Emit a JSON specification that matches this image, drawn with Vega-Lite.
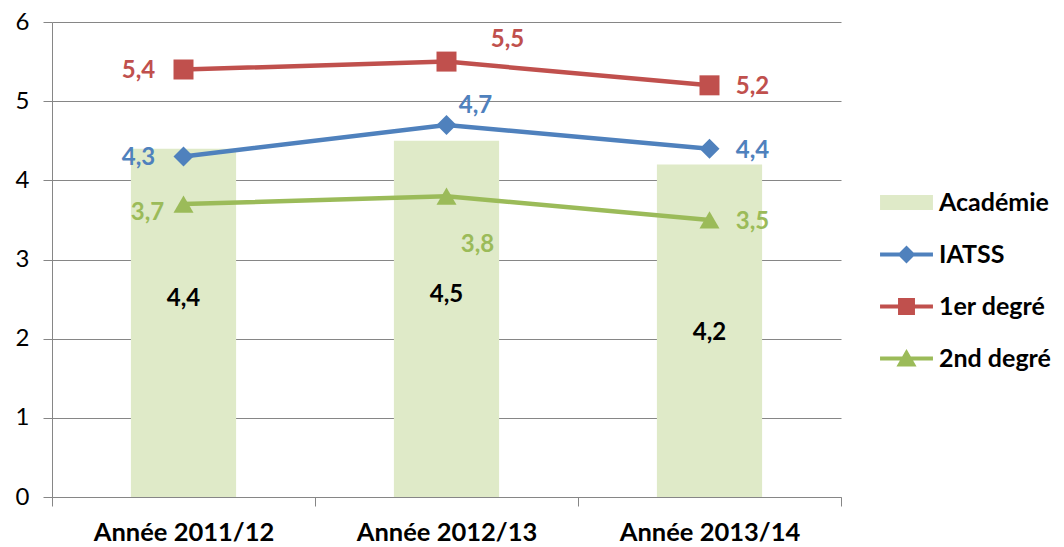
{
  "$schema": "https://vega.github.io/schema/vega-lite/v6.json",
  "autosize": "none",
  "width": 789,
  "height": 475,
  "padding": {"left": 52, "top": 22, "right": 223, "bottom": 50},
  "config": {
    "view": {"stroke": null},
    "font": "Lato",
    "locale": {"number": {"decimal": ",", "thousands": " ", "grouping": [3], "currency": ["", " €"]}},
    "axis": {"domainColor": "#868686", "tickColor": "#868686", "gridColor": "#868686", "labelColor": "black", "labelFont": "Lato", "labelFontSize": 24, "labelLimit": 0, "title": null}
  },
  "data": {"values": [
    {"annee": "Année 2011/12", "serie": "Académie", "valeur": 4.4},
    {"annee": "Année 2012/13", "serie": "Académie", "valeur": 4.5},
    {"annee": "Année 2013/14", "serie": "Académie", "valeur": 4.2},
    {"annee": "Année 2011/12", "serie": "IATSS", "valeur": 4.3},
    {"annee": "Année 2012/13", "serie": "IATSS", "valeur": 4.7},
    {"annee": "Année 2013/14", "serie": "IATSS", "valeur": 4.4},
    {"annee": "Année 2011/12", "serie": "1er degré", "valeur": 5.4},
    {"annee": "Année 2012/13", "serie": "1er degré", "valeur": 5.5},
    {"annee": "Année 2013/14", "serie": "1er degré", "valeur": 5.2},
    {"annee": "Année 2011/12", "serie": "2nd degré", "valeur": 3.7},
    {"annee": "Année 2012/13", "serie": "2nd degré", "valeur": 3.8},
    {"annee": "Année 2013/14", "serie": "2nd degré", "valeur": 3.5}
  ]},
  "encoding": {
    "x": {"field": "annee", "type": "nominal", "sort": null,
      "scale": {"paddingInner": 0, "paddingOuter": 0},
      "axis": {"labelAngle": 0, "labelFontWeight": "bold", "labelFontSize": 25.5, "labelLimit": 0, "tickBand": "extent", "tickSize": 9, "labelPadding": 14, "grid": false}},
    "y": {"field": "valeur", "type": "quantitative",
      "scale": {"domain": [0, 6], "nice": false},
      "axis": {"values": [0, 1, 2, 3, 4, 5, 6], "tickSize": 9, "labelPadding": 14, "grid": true}}
  },
  "layer": [
    {
      "transform": [{"filter": "datum.serie === 'Académie'"}],
      "mark": {"type": "bar", "width": {"band": 0.4}},
      "encoding": {
        "color": {"field": "serie", "type": "nominal",
          "scale": {"domain": ["Académie", "IATSS", "1er degré", "2nd degré"], "range": ["#dfeac8", "#4f81bd", "#c0504d", "#9bbb59"]},
          "legend": {"title": null, "orient": "none", "legendX": 828, "legendY": 154,
            "labelFont": "Lato", "labelFontSize": 25, "labelFontWeight": "bold", "labelColor": "black", "labelLimit": 0,
            "symbolSize": 2800, "rowPadding": 12, "labelOffset": 6,
            "encode": {"symbols": {"update": {
              "shape": {"signal": "datum.value === 'Académie' ? 'M-1,-0.28H1V0.28H-1Z' : datum.value === 'IATSS' ? 'M-1,-0.08H1V0.08H-1Z M0,-0.34L0.34,0L0,0.34L-0.34,0Z' : datum.value === '1er degré' ? 'M-1,-0.08H1V0.08H-1Z M-0.32,-0.32H0.32V0.32H-0.32Z' : 'M-1,-0.08H1V0.08H-1Z M0,-0.36L0.38,0.3L-0.38,0.3Z'"},
              "fill": {"signal": "scale('color', datum.value)"},
              "stroke": {"value": "transparent"},
              "strokeWidth": {"value": 0},
              "opacity": {"value": 1},
              "fillOpacity": {"value": 1}
            }}}}
        }
      }
    },
    {
      "transform": [{"filter": "datum.serie === 'Académie' && datum.annee !== 'Année 2013/14'"}, {"calculate": "datum.valeur / 2 + 0.3", "as": "mid"}],
      "mark": {"type": "text", "fontSize": 24, "fontWeight": "bold", "color": "black"},
      "encoding": {"y": {"field": "mid", "type": "quantitative"}, "text": {"field": "valeur", "type": "quantitative", "format": ".1f"}}
    },
    {
      "transform": [{"filter": "datum.serie === 'Académie' && datum.annee === 'Année 2013/14'"}, {"calculate": "datum.valeur / 2 + 0.3", "as": "mid"}],
      "mark": {"type": "text", "fontSize": 24, "fontWeight": "bold", "color": "black", "dy": 26},
      "encoding": {"y": {"field": "mid", "type": "quantitative"}, "text": {"field": "valeur", "type": "quantitative", "format": ".1f"}}
    },
    {
      "transform": [{"filter": "datum.serie !== 'Académie'"}],
      "mark": {"type": "line", "strokeWidth": 4.5},
      "encoding": {"color": {"field": "serie", "type": "nominal"}}
    },
    {
      "transform": [{"filter": "datum.serie !== 'Académie'"}],
      "mark": {"type": "point", "filled": true, "opacity": 1, "size": 400},
      "encoding": {
        "color": {"field": "serie", "type": "nominal"},
        "shape": {"field": "serie", "type": "nominal", "scale": {"domain": ["IATSS", "1er degré", "2nd degré"], "range": ["diamond", "square", "triangle-up"]}, "legend": null}
      }
    },
    {
      "transform": [{"filter": "datum.annee === 'Année 2011/12' && (datum.serie === 'IATSS' || datum.serie === '1er degré')"}],
      "mark": {"type": "text", "fontSize": 24, "fontWeight": "bold", "dx": -45, "dy": 1},
      "encoding": {"color": {"field": "serie", "type": "nominal"}, "text": {"field": "valeur", "type": "quantitative", "format": ".1f"}}
    },
    {
      "transform": [{"filter": "datum.annee === 'Année 2011/12' && datum.serie === '2nd degré'"}],
      "mark": {"type": "text", "fontSize": 24, "fontWeight": "bold", "dx": -36, "dy": 9},
      "encoding": {"color": {"field": "serie", "type": "nominal"}, "text": {"field": "valeur", "type": "quantitative", "format": ".1f"}}
    },
    {
      "transform": [{"filter": "datum.annee === 'Année 2012/13' && datum.serie === '1er degré'"}],
      "mark": {"type": "text", "fontSize": 24, "fontWeight": "bold", "dx": 61, "dy": -22},
      "encoding": {"color": {"field": "serie", "type": "nominal"}, "text": {"field": "valeur", "type": "quantitative", "format": ".1f"}}
    },
    {
      "transform": [{"filter": "datum.annee === 'Année 2012/13' && datum.serie === 'IATSS'"}],
      "mark": {"type": "text", "fontSize": 24, "fontWeight": "bold", "dx": 29, "dy": -19},
      "encoding": {"color": {"field": "serie", "type": "nominal"}, "text": {"field": "valeur", "type": "quantitative", "format": ".1f"}}
    },
    {
      "transform": [{"filter": "datum.annee === 'Année 2012/13' && datum.serie === '2nd degré'"}],
      "mark": {"type": "text", "fontSize": 24, "fontWeight": "bold", "dx": 31, "dy": 49},
      "encoding": {"color": {"field": "serie", "type": "nominal"}, "text": {"field": "valeur", "type": "quantitative", "format": ".1f"}}
    },
    {
      "transform": [{"filter": "datum.annee === 'Année 2013/14' && datum.serie !== 'Académie'"}],
      "mark": {"type": "text", "fontSize": 24, "fontWeight": "bold", "dx": 43, "dy": 2},
      "encoding": {"color": {"field": "serie", "type": "nominal"}, "text": {"field": "valeur", "type": "quantitative", "format": ".1f"}}
    }
  ]
}
